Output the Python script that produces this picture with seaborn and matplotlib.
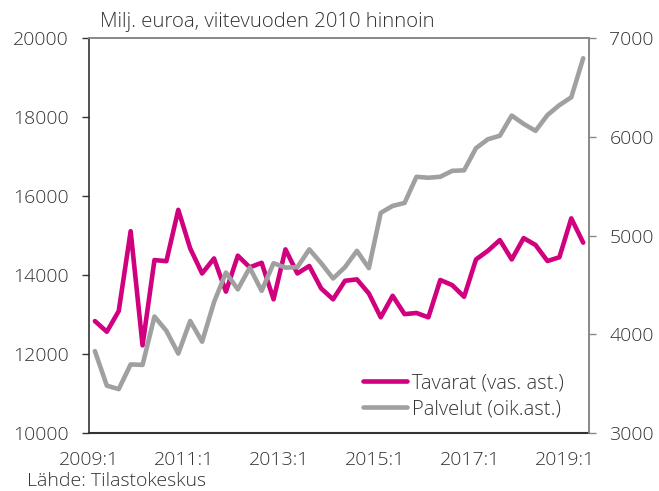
import numpy as np
import pandas as pd
import matplotlib.pyplot as plt
import seaborn as sns

# quarterly data 2009:1 - 2019:2
quarters = [f"{y}:{q}" for y in range(2009, 2020) for q in range(1, 5)][:42]
tavarat = [12835, 12565, 13090, 15110, 12220, 14380, 14350, 15650, 14675, 14040,
           14420, 13580, 14490, 14195, 14310, 13385, 14650, 14040, 14230, 13660,
           13385, 13855, 13890, 13535, 12930, 13475, 13010, 13040, 12930, 13875,
           13745, 13450, 14395, 14615, 14885, 14395, 14935, 14760, 14355, 14450,
           15435, 14820]
palvelut = [3830, 3480, 3445, 3695, 3690, 4180, 4035, 3805, 4135, 3925,
            4325, 4625, 4455, 4675, 4440, 4720, 4675, 4680, 4860, 4720,
            4565, 4680, 4845, 4670, 5230, 5300, 5330, 5595, 5585, 5595,
            5655, 5660, 5885, 5975, 6010, 6215, 6130, 6060, 6220, 6320,
            6400, 6795]
tick_labels = ["2009:1", "", "2011:1", "", "2013:1", "", "2015:1", "", "2017:1", "", "2019:1"]

df = pd.DataFrame({"q": np.arange(len(quarters)), "Tavarat": tavarat, "Palvelut": palvelut})

sns.set_style("white")
plt.rcParams['font.family'] = ['Open Sans', 'DejaVu Sans']
plt.rcParams['font.weight'] = 'light'
txt = "#333333"

fig = plt.figure(figsize=(6.59, 4.91), dpi=100)
ax = fig.add_axes([0.135, 0.118, 0.759, 0.8046])
ax2 = ax.twinx()

magenta = "#D0007F"
grey = "#A0A0A0"
sns.lineplot(data=df, x="q", y="Tavarat", ax=ax, color=magenta, linewidth=3.3,
             label="Tavarat (vas. ast.)", legend=False)
sns.lineplot(data=df, x="q", y="Palvelut", ax=ax2, color=grey, linewidth=3.3,
             label="Palvelut (oik.ast.)", legend=False)

ax.set_xlim(-0.5, 41.5)
ax.set_ylim(10000, 20000)
ax2.set_ylim(3000, 7000)
ax.set_yticks(range(10000, 20001, 2000))
ax2.set_yticks(range(3000, 7001, 1000))
ax.set_xticks(np.arange(-0.5, 41, 4))
ax.set_xticklabels(tick_labels)
ax.set_xlabel("")
ax.set_ylabel("")
ax2.set_ylabel("")

for a in (ax, ax2):
    a.tick_params(axis="both", direction="out", length=5, width=1, labelsize=14,
                  labelcolor=txt, pad=9.5)
ax.tick_params(axis="y", colors="#333333", labelcolor=txt)
ax.tick_params(axis="x", colors="#333333", labelcolor=txt, pad=8)
ax2.tick_params(axis="y", colors="#888888", labelcolor=txt)

ax.spines["left"].set_color("#333333")
ax.spines["bottom"].set_color("#333333")
ax.spines["bottom"].set_linewidth(1.5)
ax.spines["left"].set_linewidth(1.2)
for a in (ax, ax2):
    a.spines["top"].set_color("#888888")
    a.spines["right"].set_color("#888888")
    a.spines["top"].set_linewidth(1.2)
    a.spines["right"].set_linewidth(1.2)
ax2.spines["left"].set_visible(False)
ax2.spines["bottom"].set_visible(False)

h1, l1 = ax.get_legend_handles_labels()
h2, l2 = ax2.get_legend_handles_labels()
fig.legend(h1 + h2, l1 + l2, loc="center left", bbox_to_anchor=(0.551, 0.1925),
           frameon=False, fontsize=14.5, handlelength=2.2, handletextpad=0.25,
           labelspacing=0.3, borderpad=0, borderaxespad=0, labelcolor=txt)

fig.text(0.152, 0.955, "Milj. euroa, viitevuoden 2010 hinnoin", fontsize=14.7, color=txt,
         va="center", ha="left")
fig.text(0.041, 0.01, "Lähde: Tilastokeskus", fontsize=14, color=txt, va="baseline", ha="left")

fig.savefig("out.png", dpi=100)
